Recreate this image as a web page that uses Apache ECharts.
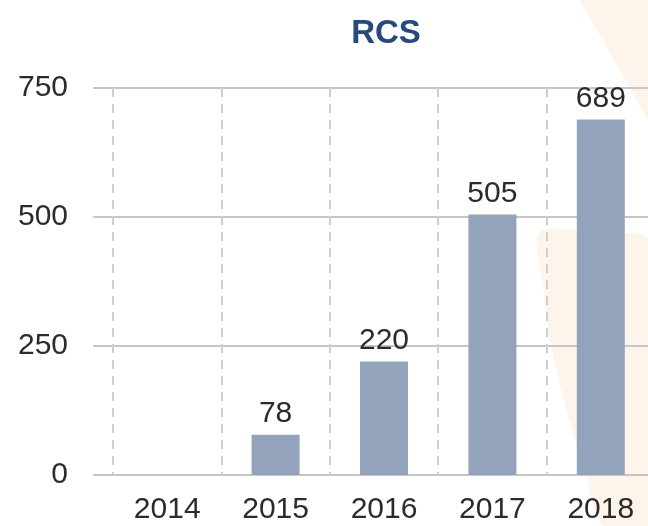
<!DOCTYPE html>
<html>
<head>
<meta charset="utf-8">
<script src="https://cdn.jsdelivr.net/npm/echarts@6/dist/echarts.min.js"></script>
<style>
  html, body { margin: 0; padding: 0; background: #fff; }
  #main { width: 648px; height: 526px; }
</style>
</head>
<body>
<div id="main"></div>
<script>
let years = ['2014', '2015', '2016', '2017', '2018'];
let rcsValues = [0, 78, 220, 505, 689];
let yTicks = [0, 250, 500, 750];

let font = '"Liberation Sans", Arial, sans-serif';
let peach = '#fdf4ec';

let chart = echarts.init(document.getElementById('main'), null, {renderer: 'canvas'});

let option = {
    backgroundColor: '#ffffff',
    animation: false,
    title: {
        text: 'RCS',
        left: 381,
        top: 12,
        textAlign: 'center',
        textStyle: {
            fontFamily: font,
            fontWeight: 'bold',
            fontSize: 33,
            color: '#274a7d'
        }
    },
    graphic: [
        {
            type: 'polygon',
            z: -10,
            shape: {points: [[580, 0], [648, 0], [648, 120]]},
            style: {fill: peach}
        },
        {
            type: 'polygon',
            z: -10,
            shape: {
                smooth: 0.3,
                points: [[540, 232], [600, 234], [648, 240], [648, 526], [603, 526],
                         [585, 470], [565, 405], [550, 340], [543, 285]]
            },
            style: {fill: peach}
        }
    ],
    grid: [
        {left: 93, right: 0, top: 88, bottom: 51, outerBoundsMode: 'none'},
        {left: 113, width: 542, top: 88, bottom: 51, outerBoundsMode: 'none'}
    ],
    xAxis: [
        {type: 'value', gridIndex: 0, show: false},
        {
            type: 'category',
            gridIndex: 1,
            data: years,
            axisLine: {show: false},
            axisTick: {show: false},
            axisLabel: {
                margin: 20,
                fontFamily: font,
                fontSize: 30,
                color: '#2b2b2b'
            },
            splitLine: {
                show: true,
                interval: 0,
                lineStyle: {color: '#cfcfcf', width: 2, type: [9, 7]}
            }
        }
    ],
    yAxis: [
        {
            type: 'value',
            gridIndex: 0,
            min: 0,
            max: 750,
            interval: 250,
            axisLine: {show: false},
            axisTick: {show: false},
            axisLabel: {
                margin: 25,
                fontFamily: font,
                fontSize: 30,
                color: '#2b2b2b',
                formatter: function (v) { return yTicks.indexOf(v) >= 0 ? String(v) : ''; }
            },
            splitLine: {lineStyle: {color: '#c6c6c6', width: 2}}
        },
        {type: 'value', gridIndex: 1, min: 0, max: 750, show: false}
    ],
    series: [
        {
            name: 'RCS',
            type: 'bar',
            xAxisIndex: 1,
            yAxisIndex: 1,
            data: rcsValues,
            barWidth: 48,
            itemStyle: {color: '#93a3bb'},
            label: {
                show: true,
                position: 'top',
                distance: 6,
                fontFamily: font,
                fontSize: 30,
                color: '#2b2b2b',
                formatter: function (p) { return p.value ? String(p.value) : ''; }
            }
        }
    ]
};

chart.setOption(option);
</script>
</body>
</html>
